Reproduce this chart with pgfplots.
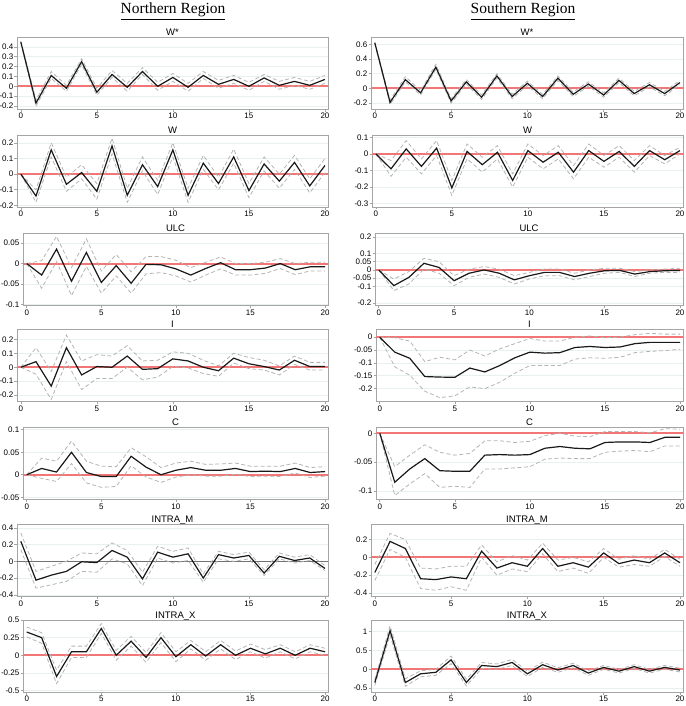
\documentclass[border=0pt]{standalone}
\usepackage{pgfplots}
\pgfplotsset{compat=1.18}
\usepackage{pgfplotstable}
\usepackage{fontspec}
\setmainfont{Liberation Sans}
\newfontfamily\headfont{Liberation Serif}

\definecolor{bandgray}{RGB}{180,180,180}
\definecolor{zerored}{RGB}{242,118,118}
\definecolor{gridc}{RGB}{232,240,242}
\definecolor{framec}{RGB}{165,165,165}

% impulse responses: x = horizon, m = response, lo/hi = bands
\pgfplotstableread{
x m lo hi
0 0.45 0.44 0.46
1 -0.17 -0.20 -0.14
2 0.11 0.08 0.15
3 -0.02 -0.05 0.01
4 0.25 0.22 0.28
5 -0.06 -0.09 -0.02
6 0.12 0.09 0.16
7 -0.01 -0.05 0.03
8 0.15 0.12 0.19
9 0.00 -0.04 0.04
10 0.09 0.05 0.13
11 -0.01 -0.05 0.03
12 0.11 0.08 0.15
13 0.02 -0.02 0.06
14 0.07 0.03 0.11
15 0.00 -0.04 0.04
16 0.085 0.05 0.12
17 0.01 -0.03 0.05
18 0.05 0.01 0.09
19 0.01 -0.03 0.05
20 0.07 0.03 0.11
}\tNWs
\pgfplotstableread{
x m lo hi
0 0.62 0.61 0.63
1 -0.19 -0.22 -0.16
2 0.12 0.09 0.16
3 -0.06 -0.09 -0.03
4 0.29 0.26 0.33
5 -0.17 -0.20 -0.14
6 0.09 0.06 0.12
7 -0.12 -0.15 -0.09
8 0.17 0.14 0.20
9 -0.11 -0.14 -0.08
10 0.07 0.04 0.10
11 -0.11 -0.14 -0.08
12 0.14 0.11 0.17
13 -0.08 -0.11 -0.05
14 0.06 0.03 0.09
15 -0.09 -0.12 -0.06
16 0.11 0.08 0.14
17 -0.07 -0.10 -0.04
18 0.05 0.02 0.08
19 -0.07 -0.10 -0.04
20 0.08 0.05 0.11
}\tSWs
\pgfplotstableread{
x m lo hi
0 0.00 0.00 0.00
1 -0.14 -0.18 -0.10
2 0.155 0.11 0.20
3 -0.065 -0.11 -0.02
4 0.01 -0.03 0.06
5 -0.11 -0.16 -0.06
6 0.18 0.13 0.23
7 -0.135 -0.18 -0.09
8 0.06 0.02 0.11
9 -0.08 -0.13 -0.04
10 0.155 0.11 0.20
11 -0.135 -0.18 -0.09
12 0.07 0.03 0.12
13 -0.06 -0.10 -0.02
14 0.11 0.07 0.16
15 -0.105 -0.15 -0.06
16 0.065 0.02 0.11
17 -0.045 -0.09 0.00
18 0.075 0.03 0.12
19 -0.075 -0.12 -0.03
20 0.055 0.01 0.10
}\tNW
\pgfplotstableread{
x m lo hi
0 0.00 0.00 0.00
1 -0.09 -0.135 -0.04
2 0.03 -0.02 0.08
3 -0.075 -0.12 -0.03
4 0.035 -0.01 0.08
5 -0.205 -0.25 -0.16
6 0.015 -0.03 0.06
7 -0.065 -0.11 -0.02
8 0.01 -0.03 0.05
9 -0.16 -0.20 -0.12
10 0.02 -0.02 0.06
11 -0.05 -0.09 -0.01
12 0.01 -0.03 0.05
13 -0.11 -0.15 -0.07
14 0.02 -0.02 0.06
15 -0.045 -0.08 -0.01
16 0.015 -0.02 0.05
17 -0.075 -0.11 -0.04
18 0.02 -0.01 0.05
19 -0.035 -0.06 -0.01
20 0.02 0.00 0.04
}\tSW
\pgfplotstableread{
x m lo hi
0 0.000 0.000 0.000
1 -0.028 -0.060 0.007
2 0.035 0.005 0.066
3 -0.043 -0.078 -0.010
4 0.027 -0.007 0.060
5 -0.046 -0.072 -0.018
6 -0.005 -0.030 0.022
7 -0.048 -0.072 -0.020
8 -0.002 -0.025 0.017
9 -0.003 -0.022 0.017
10 -0.013 -0.030 0.008
11 -0.028 -0.045 -0.010
12 -0.012 -0.028 0.003
13 0.002 -0.013 0.016
14 -0.015 -0.028 0.000
15 -0.015 -0.028 0.000
16 -0.011 -0.024 0.003
17 0.000 -0.012 0.012
18 -0.015 -0.027 0.000
19 -0.008 -0.018 0.003
20 -0.008 -0.018 0.003
}\tNULC
\pgfplotstableread{
x m lo hi
0 0.000 0.000 0.000
1 -0.095 -0.125 -0.055
2 -0.045 -0.085 -0.010
3 0.040 0.005 0.070
4 0.015 -0.020 0.050
5 -0.065 -0.095 -0.035
6 -0.020 -0.045 0.005
7 0.000 -0.025 0.020
8 -0.020 -0.045 0.005
9 -0.060 -0.085 -0.035
10 -0.035 -0.055 -0.015
11 -0.015 -0.035 0.005
12 -0.015 -0.035 0.005
13 -0.040 -0.060 -0.020
14 -0.020 -0.040 0.000
15 -0.005 -0.020 0.010
16 -0.003 -0.015 0.010
17 -0.025 -0.040 -0.010
18 -0.010 -0.020 0.000
19 -0.005 -0.015 0.005
20 -0.003 -0.015 0.010
}\tSULC
\pgfplotstableread{
x m lo hi
0 0.000 0.000 0.000
1 0.040 -0.050 0.140
2 -0.135 -0.230 -0.030
3 0.140 0.040 0.230
4 -0.055 -0.160 0.045
5 0.005 -0.080 0.090
6 0.000 -0.080 0.080
7 0.080 0.000 0.155
8 -0.015 -0.090 0.045
9 -0.010 -0.070 0.050
10 0.060 0.005 0.110
11 0.045 -0.005 0.100
12 0.000 -0.045 0.050
13 -0.025 -0.065 0.010
14 0.065 0.030 0.100
15 0.025 -0.010 0.070
16 0.005 -0.020 0.050
17 -0.020 -0.055 0.010
18 0.050 0.020 0.080
19 0.005 -0.020 0.035
20 0.005 -0.020 0.035
}\tNI
\pgfplotstableread{
x m lo hi
0 0.000 0.000 0.000
1 -0.058 -0.115 -0.002
2 -0.082 -0.148 -0.015
3 -0.153 -0.210 -0.095
4 -0.155 -0.235 -0.078
5 -0.156 -0.228 -0.088
6 -0.120 -0.193 -0.050
7 -0.135 -0.200 -0.073
8 -0.110 -0.175 -0.045
9 -0.080 -0.140 -0.025
10 -0.058 -0.110 -0.005
11 -0.062 -0.110 -0.015
12 -0.060 -0.110 -0.015
13 -0.040 -0.085 0.000
14 -0.036 -0.080 0.005
15 -0.040 -0.082 -0.002
16 -0.038 -0.078 0.000
17 -0.025 -0.060 0.010
18 -0.020 -0.055 0.015
19 -0.020 -0.052 0.012
20 -0.020 -0.047 0.012
}\tSI
\pgfplotstableread{
x m lo hi
0 0.000 0.000 0.000
1 0.014 -0.008 0.037
2 0.006 -0.015 0.030
3 0.050 0.025 0.075
4 0.005 -0.018 0.030
5 -0.004 -0.028 0.019
6 -0.004 -0.026 0.018
7 0.041 0.020 0.060
8 0.017 -0.005 0.040
9 0.000 -0.017 0.016
10 0.010 -0.005 0.026
11 0.016 0.000 0.030
12 0.010 -0.003 0.023
13 0.010 -0.003 0.024
14 0.014 0.001 0.026
15 0.007 -0.004 0.019
16 0.008 -0.003 0.019
17 0.007 -0.004 0.019
18 0.014 0.004 0.026
19 0.005 -0.006 0.016
20 0.007 -0.003 0.018
}\tNC
\pgfplotstableread{
x m lo hi
0 0.000 0.000 0.000
1 -0.085 -0.108 -0.058
2 -0.062 -0.088 -0.038
3 -0.044 -0.070 -0.020
4 -0.065 -0.094 -0.033
5 -0.066 -0.092 -0.038
6 -0.066 -0.094 -0.035
7 -0.038 -0.062 -0.013
8 -0.037 -0.062 -0.013
9 -0.038 -0.060 -0.016
10 -0.037 -0.058 -0.014
11 -0.026 -0.045 -0.004
12 -0.023 -0.043 0.000
13 -0.026 -0.044 -0.005
14 -0.027 -0.044 -0.006
15 -0.016 -0.033 0.003
16 -0.015 -0.031 0.003
17 -0.015 -0.030 0.003
18 -0.016 -0.032 0.001
19 -0.007 -0.022 0.008
20 -0.007 -0.022 0.007
}\tSC
\pgfplotstableread{
x m lo hi
0 0.24 0.14 0.34
1 -0.225 -0.32 -0.12
2 -0.165 -0.28 -0.06
3 -0.12 -0.24 0.00
4 -0.005 -0.12 0.10
5 -0.015 -0.13 0.09
6 0.13 0.03 0.22
7 0.05 -0.03 0.13
8 -0.21 -0.29 -0.13
9 0.11 0.04 0.18
10 0.05 -0.02 0.12
11 0.09 0.01 0.16
12 -0.20 -0.25 -0.15
13 0.08 0.03 0.12
14 0.04 0.00 0.08
15 0.07 0.03 0.11
16 -0.14 -0.17 -0.10
17 0.06 0.03 0.10
18 0.01 -0.02 0.05
19 0.04 0.01 0.08
20 -0.085 -0.11 -0.05
}\tNIM
\pgfplotstableread{
x m lo hi
0 -0.17 -0.26 -0.08
1 0.18 0.09 0.27
2 0.10 0.00 0.20
3 -0.24 -0.35 -0.12
4 -0.25 -0.37 -0.13
5 -0.22 -0.33 -0.10
6 -0.24 -0.37 -0.10
7 0.07 0.00 0.14
8 -0.12 -0.20 -0.05
9 -0.06 -0.13 0.02
10 -0.10 -0.16 -0.03
11 0.10 0.04 0.16
12 -0.10 -0.16 -0.03
13 -0.06 -0.12 0.00
14 -0.11 -0.18 -0.05
15 0.05 0.00 0.10
16 -0.07 -0.11 -0.02
17 -0.03 -0.08 0.02
18 -0.06 -0.10 -0.02
19 0.05 0.01 0.09
20 -0.06 -0.10 -0.02
}\tSIM
\pgfplotstableread{
x m lo hi
0 0.33 0.26 0.40
1 0.25 0.17 0.32
2 -0.30 -0.40 -0.21
3 0.05 -0.03 0.13
4 0.05 -0.03 0.13
5 0.38 0.31 0.45
6 0.00 -0.07 0.07
7 0.20 0.13 0.27
8 -0.03 -0.10 0.04
9 0.25 0.18 0.32
10 -0.02 -0.09 0.05
11 0.15 0.09 0.21
12 -0.01 -0.07 0.05
13 0.15 0.09 0.21
14 0.00 -0.06 0.06
15 0.10 0.05 0.16
16 0.02 -0.04 0.08
17 0.10 0.05 0.15
18 0.00 -0.05 0.05
19 0.10 0.05 0.15
20 0.05 0.00 0.10
}\tNIX
\pgfplotstableread{
x m lo hi
0 -0.35 -0.42 -0.28
1 1.02 0.90 1.15
2 -0.35 -0.45 -0.25
3 -0.12 -0.20 -0.04
4 -0.08 -0.16 0.00
5 0.25 0.15 0.35
6 -0.35 -0.44 -0.26
7 0.10 0.02 0.18
8 0.07 0.00 0.14
9 0.18 0.10 0.26
10 -0.12 -0.19 -0.05
11 0.12 0.05 0.19
12 -0.02 -0.08 0.04
13 0.10 0.04 0.16
14 -0.10 -0.16 -0.04
15 0.05 0.00 0.10
16 -0.05 -0.10 0.00
17 0.07 0.02 0.12
18 -0.05 -0.10 0.00
19 0.05 0.00 0.10
20 -0.02 -0.07 0.03
}\tSIX

\pgfplotsset{
  irf/.style={
    scale only axis, height=72pt, anchor=north east,
    xmin=-0.25, xmax=20.2, xtick={0,5,10,15,20},
    tick pos=left, tick align=outside, major tick length=2.5pt,
    axis line style={framec, line width=0.8pt},
    tick style={framec, line width=0.6pt},
    ymajorgrids, grid style={gridc, line width=0.6pt},
    extra y ticks={0}, extra y tick labels={},
    extra y tick style={major tick length=0pt,
      grid style={zerored, line width=2pt}},
    /pgf/number format/assume math mode=true,
    tick label style={font=\fontsize{8}{9}\selectfont},
    yticklabel style={/pgf/number format/fixed, /pgf/number format/precision=2, inner sep=1pt},
    xticklabel style={inner sep=1.5pt},
    every axis title shift=0pt,
    title style={font=\fontsize{9.5}{10}\selectfont, at={(0.5,1)}, anchor=base, yshift=1.8pt},
  },
  grayzero/.style={extra y tick style={major tick length=0pt,
      grid style={black!55, line width=0.6pt}}},
}
\newcommand{\irf}[1]{%
  \addplot[bandgray, line width=0.8pt, dash pattern=on 4pt off 2.5pt] table[x=x, y=hi] {#1};
  \addplot[bandgray, line width=0.8pt, dash pattern=on 4pt off 2.5pt] table[x=x, y=lo] {#1};
  \addplot[black!90, line width=1.2pt] table[x=x, y=m] {#1};
}

\begin{document}
\begin{tikzpicture}
\node[font=\headfont\fontsize{15.5}{18}\selectfont, anchor=base] at (173pt,-14pt) {\underline{Northern Region}};
\node[font=\headfont\fontsize{15.5}{18}\selectfont, anchor=base] at (523pt,-14pt) {\underline{Southern Region}};

% left column: Northern Region
\begin{axis}[irf, at={(328pt,-37pt)}, width=311pt, title={W*},
  ymin=-0.23, ymax=0.5, ytick={-0.2,-0.1,0,0.1,0.2,0.3,0.4}]
\irf{\tNWs}
\end{axis}
\begin{axis}[irf, at={(328pt,-135pt)}, width=311pt, title={W},
  ymin=-0.21, ymax=0.25, ytick={-0.2,-0.1,0,0.1,0.2}]
\irf{\tNW}
\end{axis}
\begin{axis}[irf, at={(328pt,-233.5pt)}, width=305pt, title={ULC},
  ymin=-0.102, ymax=0.073, ytick={-0.1,-0.05,0,0.05}]
\irf{\tNULC}
\end{axis}
\begin{axis}[irf, at={(328pt,-329.5pt)}, width=311pt, title={I},
  ymin=-0.245, ymax=0.27, ytick={-0.2,-0.1,0,0.1,0.2}]
\irf{\tNI}
\end{axis}
\begin{axis}[irf, at={(328pt,-427.5pt)}, width=305pt, title={C},
  ymin=-0.055, ymax=0.105, ytick={-0.05,0,0.05,0.1}]
\irf{\tNC}
\end{axis}
\begin{axis}[irf, grayzero, at={(328pt,-524.5pt)}, width=311pt, title={INTRA\_M},
  ymin=-0.42, ymax=0.44, ytick={-0.4,-0.2,0,0.2,0.4}]
\irf{\tNIM}
\end{axis}
\begin{axis}[irf, at={(328pt,-620pt)}, width=305pt, title={INTRA\_X},
  ymin=-0.52, ymax=0.5, ytick={-0.5,-0.25,0,0.25,0.5}]
\irf{\tNIX}
\end{axis}

% right column: Southern Region
\begin{axis}[irf, at={(683pt,-37pt)}, width=312pt, title={W*},
  ymin=-0.28, ymax=0.7, ytick={-0.2,0,0.2,0.4,0.6}]
\irf{\tSWs}
\end{axis}
\begin{axis}[irf, at={(683pt,-135pt)}, width=311pt, title={W},
  ymin=-0.32, ymax=0.114, ytick={-0.3,-0.2,-0.1,0,0.1}]
\irf{\tSW}
\end{axis}
\begin{axis}[irf, at={(683pt,-233.5pt)}, width=308pt, title={ULC},
  ymin=-0.215, ymax=0.22, ytick={-0.2,-0.1,-0.05,0,0.05,0.1,0.2}]
\irf{\tSULC}
\end{axis}
\begin{axis}[irf, at={(683pt,-329.5pt)}, width=307pt, title={I},
  ymin=-0.25, ymax=0.03, ytick={-0.2,-0.15,-0.1,-0.05,0}]
\irf{\tSI}
\end{axis}
\begin{axis}[irf, at={(683pt,-427.5pt)}, width=307pt, title={C},
  ymin=-0.115, ymax=0.01, ytick={-0.1,-0.05,0}]
\irf{\tSC}
\end{axis}
\begin{axis}[irf, at={(683pt,-524.5pt)}, width=312pt, title={INTRA\_M},
  ymin=-0.44, ymax=0.37, ytick={-0.4,-0.2,0,0.2}]
\irf{\tSIM}
\end{axis}
\begin{axis}[irf, at={(683pt,-620pt)}, width=312pt, title={INTRA\_X},
  ymin=-0.6, ymax=1.3, ytick={-0.5,0,0.5,1}]
\irf{\tSIX}
\end{axis}

\pgfresetboundingbox
\useasboundingbox (0pt,0pt) rectangle (685pt,-706pt);
\end{tikzpicture}
\end{document}
